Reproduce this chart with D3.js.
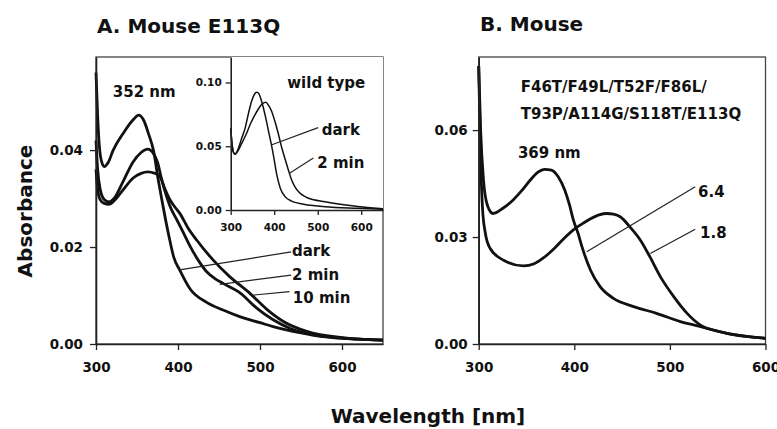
<!DOCTYPE html>
<html>
<head>
<meta charset="utf-8">
<script src="https://cdn.jsdelivr.net/npm/d3@7"></script>
<style>
  body { margin: 0; background: #fff; }
  text { font-family: "DejaVu Sans", sans-serif; font-weight: bold; fill: #111; }
</style>
</head>
<body>
<svg id="chart" width="777" height="429"></svg>
<script>
// --- data: [wavelength nm, absorbance] ---
var e113qDark = [[300,0.056],[302,0.047],[304,0.041],[307,0.0375],[310,0.0366],[315,0.0375],[321,0.040],[333,0.0434],[345,0.0462],[352,0.0472],[358,0.0462],[364,0.0434],[370,0.040],[376,0.0338],[380,0.030],[385,0.0255],[390,0.0214],[395,0.0178],[402,0.0153],[415,0.0113],[435,0.0086],[455,0.007],[476,0.0056],[500,0.0044],[516,0.0036],[550,0.0023],[577,0.0015],[620,0.001],[650,0.0008]];
var e113q2min = [[300,0.042],[302,0.036],[305,0.032],[310,0.0298],[316,0.0293],[322,0.030],[333,0.0335],[345,0.0375],[355,0.0395],[363,0.0402],[370,0.0393],[375,0.0375],[380,0.034],[385,0.031],[390,0.0285],[398,0.0258],[405,0.0235],[415,0.0201],[425,0.0172],[435,0.0149],[445,0.0135],[455,0.0125],[476,0.0105],[496,0.0074],[516,0.005],[537,0.0032],[577,0.0016],[620,0.001],[650,0.0008]];
var e113q10min = [[300,0.036],[302,0.032],[305,0.0298],[310,0.029],[316,0.0288],[322,0.0295],[333,0.0318],[345,0.0342],[355,0.0352],[363,0.0355],[372,0.0352],[378,0.0345],[384,0.032],[390,0.0298],[396,0.0283],[402,0.027],[412,0.024],[423,0.0214],[443,0.0173],[463,0.0139],[488,0.0104],[508,0.0072],[528,0.0047],[557,0.0026],[600,0.0013],[650,0.0008]];

var wtDark = [[300,0.064],[303,0.052],[306,0.0455],[310,0.0438],[316,0.047],[325,0.056],[333,0.064],[341,0.076],[348,0.0853],[355,0.091],[360,0.0924],[365,0.091],[371,0.0853],[380,0.073],[387,0.0617],[393,0.052],[398,0.0433],[406,0.0276],[414,0.0171],[425,0.0105],[440,0.007],[456,0.0053],[517,0.0026],[593,0.0013],[650,0.0005]];
var wt2min = [[300,0.064],[303,0.052],[306,0.0455],[310,0.0438],[316,0.046],[325,0.052],[335,0.059],[346,0.068],[356,0.0748],[365,0.080],[371,0.0827],[377,0.0842],[381,0.0845],[387,0.082],[394,0.0774],[402,0.069],[410,0.059],[418,0.048],[425,0.040],[432,0.032],[440,0.0235],[448,0.018],[456,0.0144],[468,0.011],[479,0.0092],[517,0.0065],[579,0.0034],[650,0.001]];

var mutPH64 = [[300,0.078],[302,0.060],[305,0.046],[309,0.039],[315,0.0366],[325,0.038],[336,0.0404],[345,0.043],[354,0.046],[362,0.0482],[369,0.049],[376,0.0488],[383,0.047],[390,0.0432],[395,0.039],[399,0.0348],[404,0.031],[408,0.0273],[417,0.0207],[427,0.0161],[441,0.0128],[462,0.0105],[486,0.0086],[511,0.0063],[532,0.0049],[560,0.003],[600,0.0016]];
var mutPH18 = [[300,0.078],[302,0.052],[304,0.038],[307,0.031],[312,0.0268],[326,0.0235],[347,0.0219],[358,0.0225],[368,0.0242],[379,0.0268],[390,0.0298],[400,0.0322],[410,0.034],[417,0.0351],[426,0.0362],[434,0.0366],[441,0.0364],[448,0.0357],[458,0.0329],[469,0.0292],[479,0.0245],[490,0.0189],[504,0.0133],[518,0.0086],[532,0.0053],[553,0.0034],[600,0.0016]];

var ticksA = [0, 0.02, 0.04];
var ticksInset = [0, 0.05, 0.10];
var ticksB = [0, 0.03, 0.06];
var ticksWl = [300, 400, 500, 600];

// labels: text, position [nm, abs], optional leader [[nm,abs],[nm,abs]]
var labelsA = [
  { text: '352 nm', at: [320.5, 0.051] },
  { text: 'dark', at: [539, 0.0181], leader: [[538, 0.0190], [402, 0.0153]] },
  { text: '2 min', at: [539, 0.0132], leader: [[538, 0.0142], [451, 0.0123]] },
  { text: '10 min', at: [540, 0.00845], leader: [[536, 0.0108], [492, 0.0101]] }
];
var labelsInset = [
  { text: 'wild type', at: [430, 0.0957] },
  { text: 'dark', at: [509, 0.059], leader: [[501, 0.0646], [393, 0.051]] },
  { text: '2 min', at: [499, 0.0327], leader: [[490, 0.0407], [436, 0.029]] }
];
var labelsB = [
  { text: 'F46T/F49L/T52F/F86L/', at: [344, 0.0707] },
  { text: 'T93P/A114G/S118T/E113Q', at: [344, 0.0631] },
  { text: '369 nm', at: [341, 0.0521] },
  { text: '6.4', at: [529.5, 0.0413], leader: [[526.5, 0.0441], [413, 0.0259]] },
  { text: '1.8', at: [531.5, 0.0296], leader: [[526.5, 0.0322], [479.5, 0.0254]] }
];

var svg = d3.select('#chart');

function panel(opts) {
  var x = d3.scaleLinear().domain(opts.xDomain).range([opts.left, opts.right]);
  var y = d3.scaleLinear().domain(opts.yDomain).range([opts.bottom, opts.top]);
  var g = svg.append('g');

  if (opts.inset) {
    // inset only has its left and bottom edges drawn, it sits in panel A's corner
    g.append('rect')
      .attr('x', opts.left).attr('y', opts.top)
      .attr('width', opts.right - opts.left).attr('height', opts.bottom - opts.top)
      .attr('fill', '#fff');
  } else {
    g.append('rect')
      .attr('x', opts.left).attr('y', opts.top)
      .attr('width', opts.right - opts.left).attr('height', opts.bottom - opts.top)
      .attr('fill', 'none').attr('stroke', '#444').attr('stroke-width', 1.3);
  }

  var line = d3.line()
    .x(function(d) { return x(d[0]); })
    .y(function(d) { return y(d[1]); })
    .curve(d3.curveMonotoneX);

  g.selectAll('path.spectrum')
    .data(opts.series)
    .enter()
    .append('path')
    .attr('class', 'spectrum')
    .attr('d', line)
    .attr('fill', 'none')
    .attr('stroke', '#111')
    .attr('stroke-width', opts.lineWidth)
    .attr('stroke-linejoin', 'round');

  var xAxis = g.append('g')
    .attr('transform', 'translate(0,' + opts.bottom + ')')
    .call(d3.axisBottom(x).tickValues(ticksWl).tickSize(opts.tickSize).tickSizeOuter(0).tickPadding(opts.xPad));
  var yAxis = g.append('g')
    .attr('transform', 'translate(' + opts.left + ',0)')
    .call(d3.axisLeft(y).tickValues(opts.yTicks).tickFormat(d3.format('.2f')).tickSize(opts.tickSize).tickSizeOuter(0).tickPadding(opts.yPad));

  [xAxis, yAxis].forEach(function(ax) {
    ax.select('.domain').attr('stroke', '#222').attr('stroke-width', 1.6);
    ax.selectAll('.tick line').attr('stroke', '#222').attr('stroke-width', 1.3);
    ax.selectAll('.tick text')
      .attr('font-family', '"DejaVu Sans", sans-serif')
      .attr('font-weight', 'bold')
      .attr('font-size', opts.tickFont)
      .attr('fill', '#111');
  });

  opts.labels.forEach(function(l) {
    if (l.leader) {
      g.append('line')
        .attr('x1', x(l.leader[0][0])).attr('y1', y(l.leader[0][1]))
        .attr('x2', x(l.leader[1][0])).attr('y2', y(l.leader[1][1]))
        .attr('stroke', '#222').attr('stroke-width', 1.2);
    }
    g.append('text')
      .attr('x', x(l.at[0]))
      .attr('y', y(l.at[1]))
      .attr('font-size', opts.labelFont)
      .text(l.text);
  });
}

// A. Mouse E113Q
panel({
  left: 96, right: 383, top: 57, bottom: 344,
  xDomain: [300, 650], yDomain: [0, 0.0592],
  series: [e113qDark, e113q2min, e113q10min],
  yTicks: ticksA, lineWidth: 2.8, tickSize: 6, xPad: 12, yPad: 7,
  tickFont: 13.5, labelFont: 15, labels: labelsA
});

// inset: wild type
panel({
  inset: true,
  left: 230.7, right: 383, top: 57, bottom: 210,
  xDomain: [300, 650], yDomain: [0, 0.12],
  series: [wtDark, wt2min],
  yTicks: ticksInset, lineWidth: 1.5, tickSize: 5, xPad: 9, yPad: 4,
  tickFont: 10.5, labelFont: 15, labels: labelsInset
});

// B. Mouse
panel({
  left: 478.7, right: 765.5, top: 57, bottom: 344,
  xDomain: [300, 600], yDomain: [0, 0.0805],
  series: [mutPH64, mutPH18],
  yTicks: ticksB, lineWidth: 2.8, tickSize: 6, xPad: 12, yPad: 5,
  tickFont: 13.5, labelFont: 15, labels: labelsB
});

// titles
svg.append('text').attr('x', 97).attr('y', 33).attr('font-size', 20).text('A. Mouse E113Q');
svg.append('text').attr('x', 480).attr('y', 30.5).attr('font-size', 20).text('B. Mouse');

svg.append('text')
  .attr('transform', 'translate(32,211) rotate(-90)')
  .attr('text-anchor', 'middle')
  .attr('font-size', 20)
  .text('Absorbance');
svg.append('text')
  .attr('x', 428).attr('y', 423)
  .attr('text-anchor', 'middle')
  .attr('font-size', 20)
  .text('Wavelength [nm]');
</script>
</body>
</html>
